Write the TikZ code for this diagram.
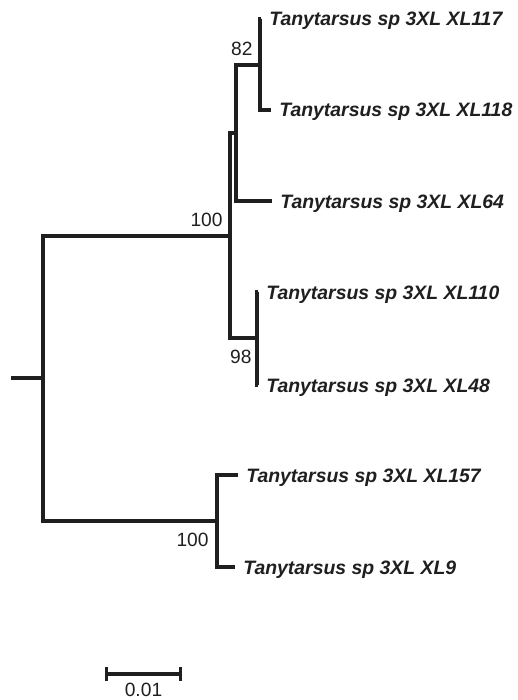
\documentclass[tikz,border=0pt]{standalone}
\usepackage{fontspec}
\setmainfont{Liberation Sans}
\usepackage{tikz}
\usetikzlibrary{arrows.meta}
\usetikzlibrary{calc,positioning}

\begin{document}
\begin{tikzpicture}[x=0.5pt, y=-0.5pt,
        branch/.style={draw=black!88, line width=1.7pt, line cap=butt, line join=miter},
        taxon/.style={anchor=base west, inner sep=0pt, xshift=4pt, yshift=-3.5pt,
        font=\fontsize{9.7}{11}\selectfont\bfseries\itshape, text=black!88},
        boot/.style={inner sep=0pt, font=\fontsize{9.6}{11}\selectfont, text=black!88}]
    \useasboundingbox (0,0) rectangle (518,700);
    % internal nodes
    \coordinate (R0) at (11,378);
    \coordinate (R) at (43,378);
    \coordinate (A) at (230,236);
    \coordinate (B) at (236,133);
    \coordinate (D) at (260,65);
    \coordinate (C) at (257,338);
    \coordinate (E) at (217,521);
    % tips
    \coordinate (t117) at (261,19);
    \coordinate (t118) at (271,110);
    \coordinate (t64) at (272,201);
    \coordinate (t110) at (258,292);
    \coordinate (t48) at (258,385);
    \coordinate (t157) at (238,475);
    \coordinate (t9) at (235,567);

    % branches
    \draw[branch] (R0) -- (R);
    \draw[branch] (A) -| (R) |- (E);
    \draw[branch] (B) -| (A) |- (C);
    \draw[branch] (D) -| (B) |- (t64);
    \draw[branch] (t117) -| (D) |- (t118);
    \draw[branch] (t110) -| (C) |- (t48);
    \draw[branch] (t157) -| (E) |- (t9);

    % taxa
    \node[taxon] (l117) at (t117) {Tanytarsus sp 3XL XL117};
    \node[taxon] (l118) at (t118) {Tanytarsus sp 3XL XL118};
    \node[taxon] (l64) at (t64) {Tanytarsus sp 3XL XL64};
    \node[taxon] (l110) at (t110) {Tanytarsus sp 3XL XL110};
    \node[taxon] (l48) at (t48) {Tanytarsus sp 3XL XL48};
    \node[taxon] (l157) at (t157) {Tanytarsus sp 3XL XL157};
    \node[taxon] (l9) at (t9) {Tanytarsus sp 3XL XL9};

    % bootstrap values
    \node[boot, above left=4.3pt and 3.5pt of D] (bD) {82};
    \node[boot, above left=4.3pt and 3.5pt of A] (bA) {100};
    \node[boot, below left=6pt and 2.5pt of C] (bC) {98};
    \node[boot, below left=6pt and 4pt of E] (bE) {100};

    % scale bar
    \coordinate (s1) at (105,674);
    \coordinate (s2) at (182,674);
    \draw[branch, {Bar[width=7pt]}-{Bar[width=7pt]}] (s1) -- (s2);
    \node[boot, below=4.5pt of $(s1)!0.5!(s2)$] (sc) {0.01};
\end{tikzpicture}
\end{document}
